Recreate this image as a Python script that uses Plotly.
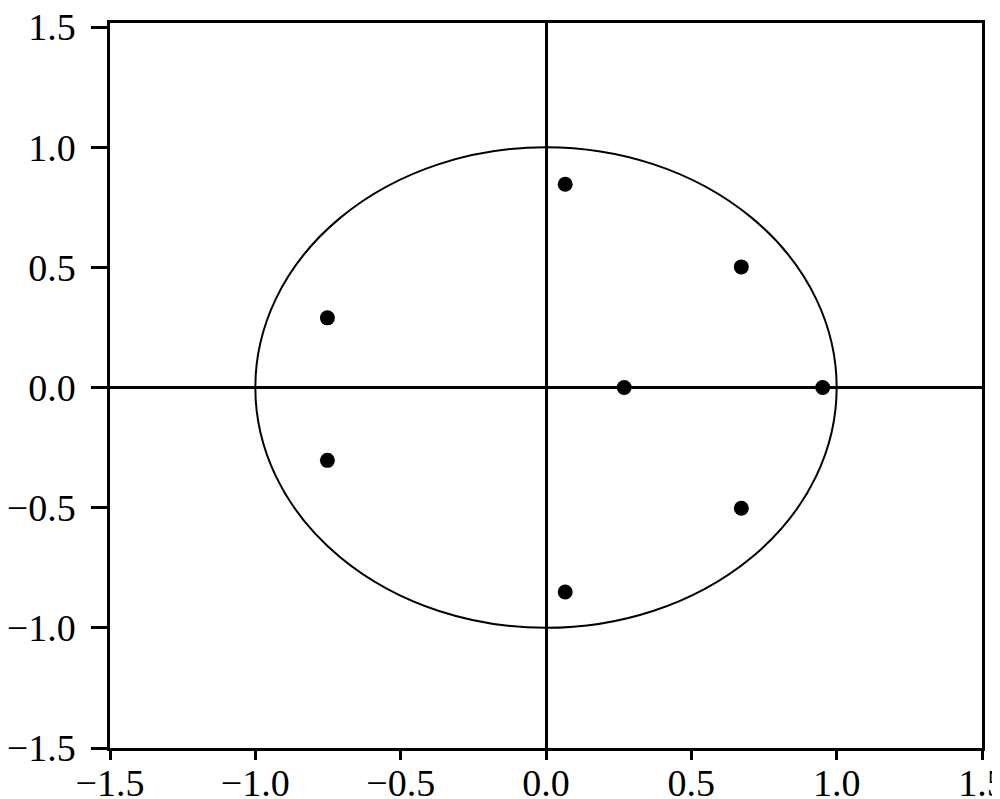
import plotly.graph_objects as go

# pole/root locations
re_vals = [0.066, 0.672, -0.752, 0.269, 0.952, -0.752, 0.672, 0.066]
im_vals = [0.846, 0.502, 0.290, 0.0, 0.0, -0.303, -0.502, -0.851]
tick_vals = [-1.5, -1.0, -0.5, 0.0, 0.5, 1.0, 1.5]
tick_text = ["\u22121.5", "\u22121.0", "\u22120.5", "0.0", "0.5", "1.0", "1.5"]

fig = go.Figure()
fig.add_trace(go.Scatter(
    x=re_vals, y=im_vals, mode="markers",
    marker=dict(symbol="circle", size=15, color="black"),
    showlegend=False, cliponaxis=False,
))

# unit circle
fig.add_shape(type="circle", xref="x", yref="y", x0=-1, x1=1, y0=-1, y1=1,
              line=dict(color="black", width=2), layer="below")

font = dict(family="Times New Roman, Liberation Serif, serif", size=38, color="black")
fig.update_layout(
    width=992, height=791,
    margin=dict(l=102, r=18, t=15, b=51, pad=0),
    paper_bgcolor="white", plot_bgcolor="white",
    showlegend=False,
)
fig.update_xaxes(
    range=[-1.5, 1.5], tickvals=tick_vals, ticktext=tick_text,
    ticks="outside", ticklen=9, tickwidth=2.5, tickcolor="black",
    showline=True, mirror=True, linecolor="black", linewidth=2.5,
    showgrid=False, zeroline=True, zerolinecolor="black", zerolinewidth=2.5,
    tickfont=font, ticklabelstandoff=-9, automargin=False,
    ticklabeloverflow="allow",
)
fig.update_yaxes(
    range=[-1.5, 1.517], tickvals=tick_vals, ticktext=tick_text,
    ticks="outside", ticklen=16, tickwidth=2.5, tickcolor="black",
    showline=True, mirror=True, linecolor="black", linewidth=2.5,
    showgrid=False, zeroline=True, zerolinecolor="black", zerolinewidth=2.5,
    tickfont=font, ticklabelstandoff=8, automargin=False,
    ticklabeloverflow="allow",
)

fig.write_html("out.html")
